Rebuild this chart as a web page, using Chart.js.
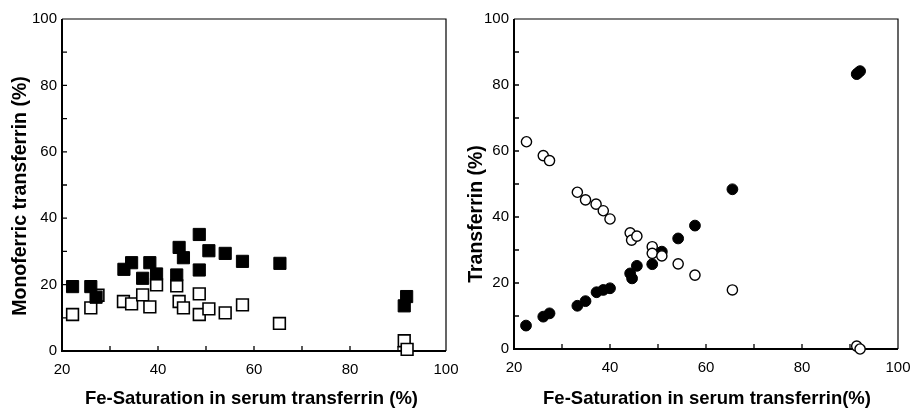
<!DOCTYPE html>
<html><head><meta charset="utf-8">
<script src="https://cdn.jsdelivr.net/npm/chart.js@4.4.0/dist/chart.umd.min.js"></script>
<style>
html,body{margin:0;padding:0;background:#fff;}
#wrap{position:relative;width:913px;height:408px;overflow:hidden;background:#fff;}
#c1{position:absolute;left:0;top:0;}
#c2{position:absolute;left:456px;top:0;}
</style></head><body>
<div id="wrap">
<canvas id="c1" width="470" height="408"></canvas>
<canvas id="c2" width="457" height="408"></canvas>
</div>
<script>
// Left panel: monoferric transferrin
const monoFilledX = [22.2,26.0,27.1,32.9,34.5,36.8,38.3,39.7,43.9,44.4,45.3,48.6,48.6,50.6,54.0,57.6,65.4,91.8,91.3];
const monoFilledY = [19.4,19.4,16.2,24.6,26.6,21.9,26.6,23.2,22.9,31.2,28.1,35.1,24.4,30.2,29.4,27.0,26.4,16.4,13.6];
const monoOpenX = [22.2,26.0,27.5,32.8,34.5,36.8,38.3,39.7,43.9,44.4,45.3,48.6,48.6,50.6,54.0,57.6,65.3,91.3,91.9];
const monoOpenY = [11.0,13.0,16.8,14.9,14.2,16.9,13.3,19.9,19.6,14.9,13.0,17.2,11.0,12.7,11.5,13.9,8.3,3.1,0.5];
// Right panel: transferrin
const rightFilledX = [22.5,26.1,27.4,33.2,34.9,37.2,38.6,40.0,44.2,44.6,45.6,48.8,50.8,54.2,57.7,65.5,91.4,91.7,92.1];
const rightFilledY = [7.1,9.8,10.8,13.1,14.5,17.2,17.9,18.4,22.9,21.4,25.2,25.7,29.5,33.5,37.4,48.4,83.3,83.7,84.2];
const rightOpenX = [22.6,26.1,27.4,33.2,34.9,37.1,38.6,40.0,44.2,44.5,45.6,48.8,48.8,50.8,54.2,57.7,65.5,91.4,92.1];
const rightOpenY = [62.8,58.6,57.1,47.5,45.2,43.9,41.9,39.4,35.2,33.0,34.2,31.0,29.0,28.2,25.8,22.4,17.9,0.9,0.0];

const xMin = 20, xMax = 100, yMin = 0, yMax = 100, tickStep = 10, labelStep = 20;
const leftXTitle = 'Fe-Saturation in serum transferrin (%)';
const leftYTitle = 'Monoferric transferrin (%)';
const rightXTitle = 'Fe-Saturation in serum transferrin(%)';
const rightYTitle = 'Transferrin (%)';

Chart.defaults.font.family = "'Liberation Sans', Arial, Helvetica, sans-serif";
Chart.defaults.color = '#000';
const FAM = "'Liberation Sans', Arial, Helvetica, sans-serif";

function pts(xs, ys){ return xs.map((x,i)=>({x:x, y:ys[i]})); }

const frame = {
  id:'frame',
  beforeDatasetsDraw(chart){
    const {ctx, chartArea:a, scales:{x,y}} = chart;
    ctx.save();
    ctx.strokeStyle = '#000';
    ctx.lineWidth = 1.2;
    ctx.beginPath();
    ctx.moveTo(a.left, a.top); ctx.lineTo(a.right, a.top); ctx.lineTo(a.right, a.bottom);
    ctx.stroke();
    ctx.lineWidth = 2;
    ctx.beginPath();
    ctx.moveTo(a.left, a.top); ctx.lineTo(a.left, a.bottom); ctx.lineTo(a.right, a.bottom);
    ctx.stroke();
    ctx.lineWidth = 1.3;
    ctx.beginPath();
    x.ticks.forEach(t=>{ const px = x.getPixelForValue(t.value); if (px > a.left+1 && px < a.right-1){ ctx.moveTo(px, a.bottom); ctx.lineTo(px, a.bottom-5); } });
    y.ticks.forEach(t=>{ const py = y.getPixelForValue(t.value); if (py > a.top+1 && py < a.bottom-1){ ctx.moveTo(a.left, py); ctx.lineTo(a.left+5, py); } });
    ctx.stroke();
    ctx.restore();
  },
  afterDraw(chart, args, opts){
    const ctx = chart.ctx;
    ctx.save();
    ctx.fillStyle = '#000';
    ctx.textAlign = 'center';
    ctx.textBaseline = 'middle';
    ctx.font = 'bold ' + opts.xSize + 'px ' + FAM;
    ctx.fillText(opts.xTitle, opts.xTitleX, opts.xTitleY);
    ctx.font = 'bold ' + opts.ySize + 'px ' + FAM;
    ctx.translate(opts.yTitleX, opts.yTitleY);
    ctx.rotate(-Math.PI/2);
    ctx.fillText(opts.yTitle, 0, 0);
    ctx.restore();
  }
};

function scales(yWidth, xHeight){
  return {
    x: {type:'linear', min:xMin, max:xMax,
      ticks:{stepSize:tickStep, autoSkip:false, maxRotation:0, padding:10,
        font:{size:15}, color:'#000',
        callback:v=> (v % labelStep === 0 ? String(v) : '')},
      grid:{display:false, drawTicks:false}, border:{display:false},
      title:{display:false},
      afterFit:s=>{ s.height = xHeight; s.paddingLeft = 0; s.paddingRight = 0; }
    },
    y: {type:'linear', min:yMin, max:yMax,
      ticks:{stepSize:tickStep, autoSkip:false, padding:5,
        font:{size:15}, color:'#000',
        callback:v=> (v % labelStep === 0 ? String(v) : '')},
      grid:{display:false, drawTicks:false}, border:{display:false},
      title:{display:false},
      afterFit:s=>{ s.width = yWidth; s.paddingTop = 0; s.paddingBottom = 0; }
    }
  };
}

new Chart(document.getElementById('c1'), {
  type:'scatter',
  data:{datasets:[
    {label:'filled', data:pts(monoFilledX, monoFilledY), pointStyle:'rect', pointRadius:8.6,
      backgroundColor:'#000', borderColor:'#000', borderWidth:1, clip:false},
    {label:'open', data:pts(monoOpenX, monoOpenY), pointStyle:'rect', pointRadius:8.3,
      backgroundColor:'#fff', borderColor:'#000', borderWidth:1.6, clip:false}
  ]},
  options:{
    responsive:false, animation:false, events:[],
    layout:{padding:{top:19, right:24, left:0, bottom:0}},
    scales:scales(62, 57),
    plugins:{legend:{display:false}, tooltip:{enabled:false},
      frame:{xTitle:leftXTitle, xTitleX:251.5, xTitleY:399, xSize:18.5,
             yTitle:leftYTitle, yTitleX:21, yTitleY:196, ySize:19.5}}
  },
  plugins:[frame]
});

new Chart(document.getElementById('c2'), {
  type:'scatter',
  data:{datasets:[
    {label:'open', data:pts(rightOpenX, rightOpenY), pointStyle:'circle', pointRadius:5.1,
      backgroundColor:'#fff', borderColor:'#000', borderWidth:1.4, clip:false},
    {label:'filled', data:pts(rightFilledX, rightFilledY), pointStyle:'circle', pointRadius:5.4,
      backgroundColor:'#000', borderColor:'#000', borderWidth:1, clip:false}
  ]},
  options:{
    responsive:false, animation:false, events:[],
    layout:{padding:{top:19, right:15, left:0, bottom:0}},
    scales:scales(58, 59),
    plugins:{legend:{display:false}, tooltip:{enabled:false},
      frame:{xTitle:rightXTitle, xTitleX:251, xTitleY:399, xSize:18.5,
             yTitle:rightYTitle, yTitleX:21, yTitleY:214, ySize:19.5}}
  },
  plugins:[frame]
});
</script>
</body></html>
